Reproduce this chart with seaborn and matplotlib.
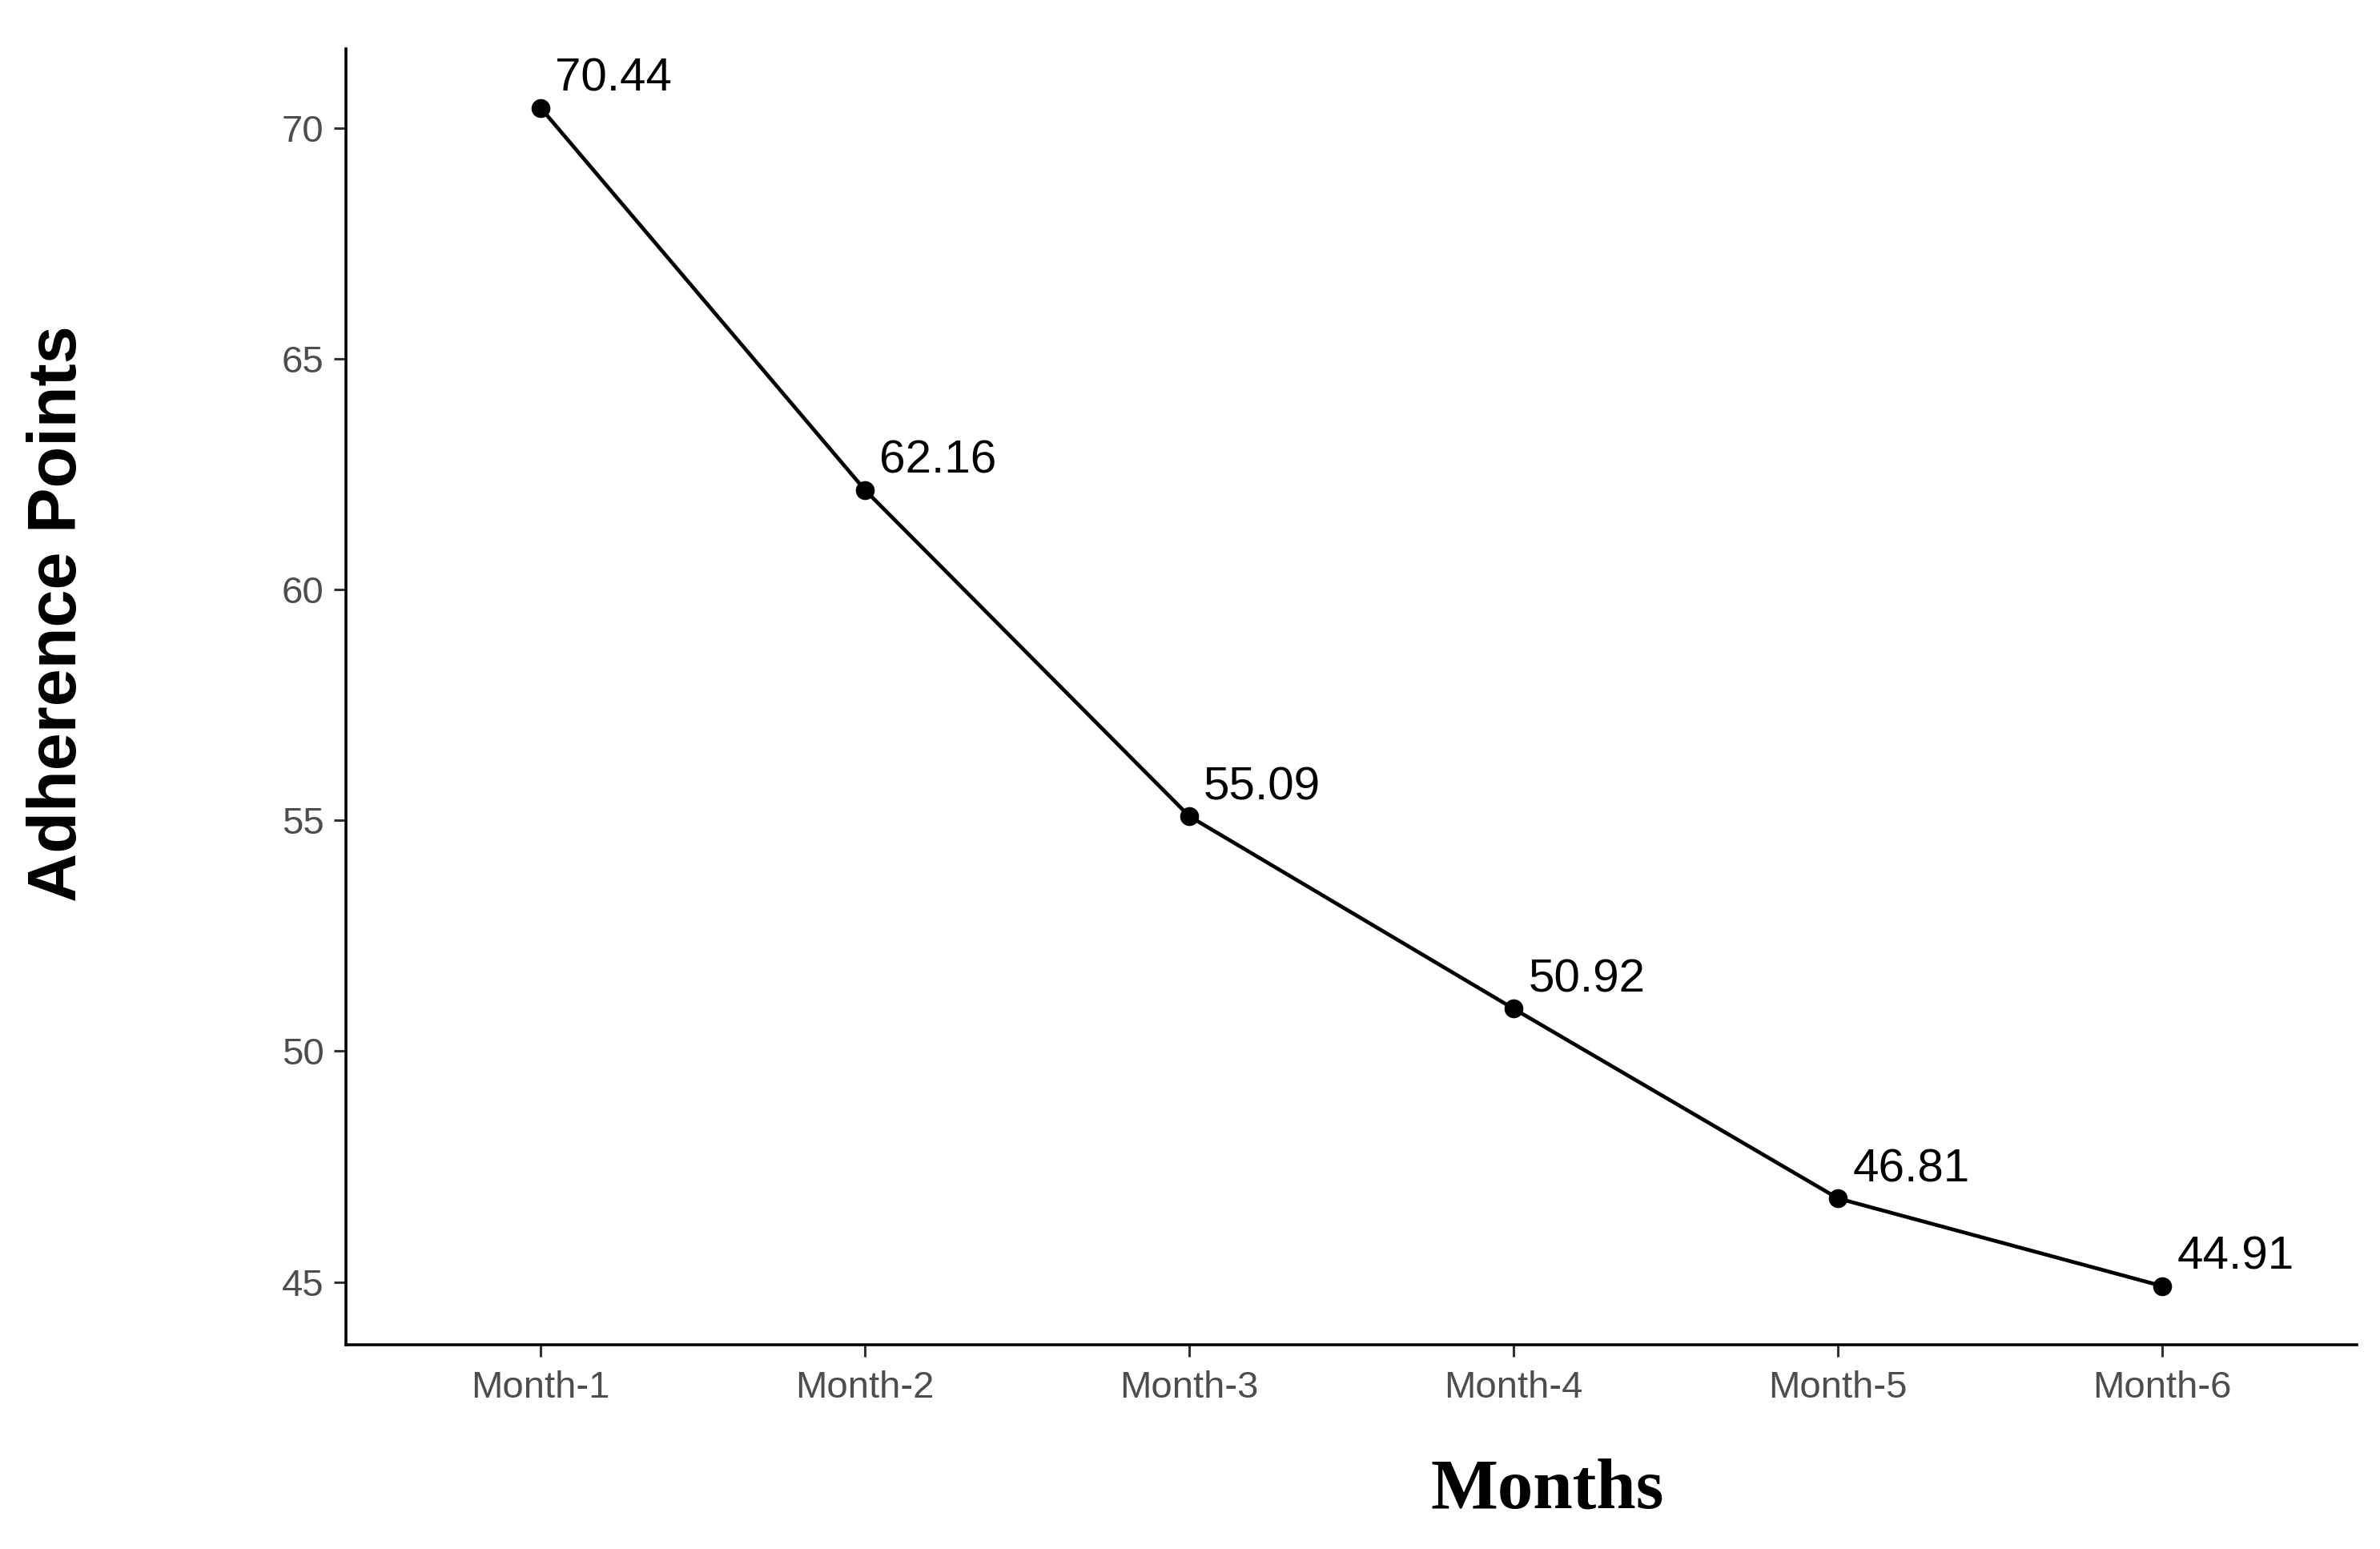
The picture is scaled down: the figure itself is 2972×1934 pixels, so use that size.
import numpy as np
import pandas as pd
import seaborn as sns
import matplotlib
matplotlib.use("Agg")
import matplotlib.pyplot as plt

# Values
months = ["Month-1", "Month-2", "Month-3", "Month-4", "Month-5", "Month-6"]
adherence = [70.44, 62.16, 55.09, 50.92, 46.81, 44.91]
y_ticks = [45, 50, 55, 60, 65, 70]

sns.set_theme(style="white")
plt.rcParams['font.family'] = ['Liberation Sans', 'DejaVu Sans']

df = pd.DataFrame({"Month": months, "Adherence": adherence})

fig = plt.figure(figsize=(29.72, 19.34), dpi=100)
ax = fig.add_axes([0.1454, 0.1319, 0.9903 - 0.1454, 0.9685 - 0.1319])

sns.lineplot(data=df, x="Month", y="Adherence", ax=ax, color="black",
             linewidth=3.4, marker="o", markersize=17, markeredgewidth=0,
             sort=False)

# value labels above-right of each point
for i, v in enumerate(adherence):
    ax.annotate(f"{v:.2f}", (i, v), xytext=(13, 15), textcoords="offset points",
                ha="left", va="baseline", fontsize=42, color="black")

ax.set_xlim(-0.6, 5.6)
ax.set_ylim(43.64, 71.72)
ax.set_yticks(y_ticks)
ax.set_xlabel("")
ax.set_ylabel("")

for side in ["top", "right"]:
    ax.spines[side].set_visible(False)
for side in ["left", "bottom"]:
    ax.spines[side].set_color("black")
    ax.spines[side].set_linewidth(2.6)

ax.tick_params(axis="both", which="major", length=11, width=2.2,
               color="#333333", labelcolor="#4D4D4D", labelsize=34,
               left=True, bottom=True)
ax.tick_params(axis="y", pad=9)
ax.tick_params(axis="x", pad=12)

fig.text(0.0245, 0.604, "Adherence Points", rotation=90, ha="center", va="center",
         fontsize=61, fontweight="bold", family="Liberation Sans", color="black")
fig.text(0.650, 0.0375, "Months", ha="center", va="center",
         fontsize=64, fontweight="bold", family="Liberation Serif", color="black")

fig.savefig("out.png", dpi=100)
